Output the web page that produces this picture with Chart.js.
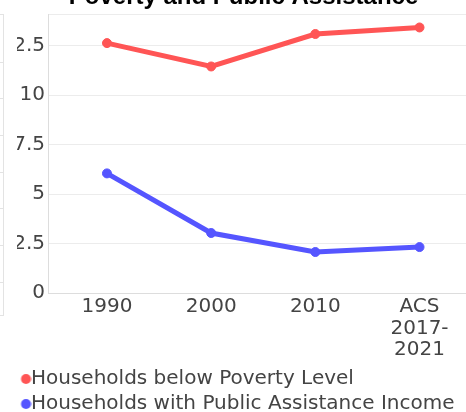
<!DOCTYPE html>
<html>
<head>
<meta charset="utf-8">
<script src="https://cdn.jsdelivr.net/npm/chart.js@4.4.0/dist/chart.umd.min.js"></script>
<style>
  html, body { margin: 0; padding: 0; background: #fff; width: 466px; height: 412px; overflow: hidden; }
  #wrap { position: absolute; left: 3px; top: -25px; }
  #edge { position: absolute; left: 0; top: 0; width: 17px; height: 412px; background: #fff; z-index: 2; }
  #edge div { position: absolute; background: #e3e3e3; }
</style>
</head>
<body>
<div id="edge"></div>
<div id="wrap"><canvas id="chart" width="481" height="449"></canvas></div>
<script>
// data
const categories = ["1990", "2000", "2010", ["ACS", "2017-", "2021"]];
const povertyHouseholds = [12.63, 11.45, 13.09, 13.42];
const assistanceHouseholds = [6.05, 3.04, 2.08, 2.33];
const seriesNames = ["Households below Poverty Level", "Households with Public Assistance Income"];
const yTicks = [0, 2.5, 5, 7.5, 10, 12.5];
const yMax = 14.1;

const colors = ["#ff5555", "#5555ff"];
const textColor = "#444";
const font = "'DejaVu Sans', sans-serif";

// right edge of the table that sits to the left of the chart
const edge = document.getElementById("edge");
const v = document.createElement("div");
v.style.cssText = "left:3px;top:14px;width:1px;height:302px";
edge.appendChild(v);
[14, 62, 98, 135, 172, 208, 245, 282, 315].forEach(t => {
  const h = document.createElement("div");
  h.style.cssText = "left:0;top:" + t + "px;width:4px;height:1px";
  edge.appendChild(h);
});

// small legend dot, shifted right so it sits close to the text
function legendDot(color) {
  const c = document.createElement("canvas");
  c.width = 34;
  c.height = 12;
  const ctx = c.getContext("2d");
  ctx.fillStyle = color;
  ctx.beginPath();
  ctx.arc(28.5, 6, 5, 0, Math.PI * 2);
  ctx.fill();
  return c;
}

const toPoints = arr => arr.map((y, i) => ({ x: i, y: y }));

function lineSet(label, values, color) {
  return {
    label: label,
    data: toPoints(values),
    borderColor: color,
    backgroundColor: color,
    pointBackgroundColor: color,
    pointBorderColor: color,
    borderWidth: 5,
    pointBorderWidth: 1,
    pointRadius: 4.5,
    pointHoverRadius: 4.5,
    tension: 0
  };
}

new Chart(document.getElementById("chart"), {
  type: "line",
  data: {
    datasets: [
      lineSet(seriesNames[0], povertyHouseholds, colors[0]),
      lineSet(seriesNames[1], assistanceHouseholds, colors[1])
    ]
  },
  options: {
    responsive: false,
    animation: false,
    devicePixelRatio: 1,
    layout: { padding: 0 },
    scales: {
      x: {
        type: "linear",
        min: -0.566,
        max: categories.length - 1 + 0.566,
        afterBuildTicks: s => { s.ticks = categories.map((c, i) => ({ value: i })); },
        grid: { display: false, drawTicks: false },
        border: { display: true, color: "#ddd" },
        ticks: {
          color: textColor,
          font: { family: font, size: 20, lineHeight: 1.08 },
          padding: 3,
          maxRotation: 0,
          callback: val => categories[val]
        }
      },
      y: {
        min: 0,
        max: yMax,
        afterBuildTicks: s => { s.ticks = yTicks.concat([yMax]).map(t => ({ value: t })); },
        afterFit: s => { s.width = 45; },
        grid: { color: "#ececec", drawTicks: false },
        border: { display: true, color: "#ddd" },
        ticks: {
          color: textColor,
          font: { family: font, size: 20 },
          padding: 3,
          callback: val => (val === yMax ? "" : String(val))
        }
      }
    },
    plugins: {
      title: {
        display: true,
        text: "Poverty and Public Assistance",
        color: "#000",
        font: { family: "'Liberation Sans', Arial, sans-serif", size: 24, weight: "bold" },
        padding: { top: 8, bottom: 2.2 }
      },
      legend: {
        position: "bottom",
        align: "start",
        labels: {
          usePointStyle: true,
          boxWidth: 13,
          padding: 5,
          color: textColor,
          font: { family: font, size: 20 },
          generateLabels: chart => {
            const items = Chart.defaults.plugins.legend.labels.generateLabels(chart);
            items.forEach(it => { it.pointStyle = legendDot(colors[it.datasetIndex]); });
            return items;
          }
        }
      },
      tooltip: { enabled: false }
    }
  }
});
</script>
</body>
</html>
